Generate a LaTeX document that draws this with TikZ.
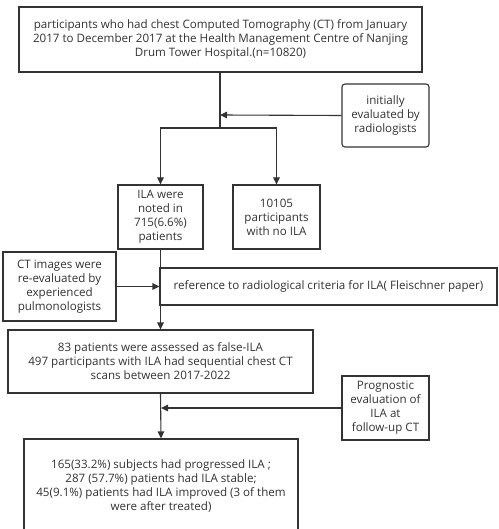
\documentclass[tikz,border=0pt]{standalone}
\usepackage{fontspec}
\setmainfont{Open Sans}
\usetikzlibrary{arrows.meta}
\definecolor{linec}{HTML}{333333}
\definecolor{textc}{HTML}{333333}
\begin{document}
\begin{tikzpicture}[x=1pt,y=-1pt,
  box/.style={draw=linec, line width=1.1pt, align=center, inner sep=1pt,
    font=\fontsize{11.6}{14}\selectfont, text=textc},
  conn/.style={draw=linec, line width=1.1pt},
  arr/.style={conn, -{Triangle[length=7pt,width=6.5pt]}}]
\useasboundingbox (0,0) rectangle (498,529);
\clip (0,0) rectangle (498,529);
\fill[white] (0,0) rectangle (498,529);

\node[box, minimum width=403pt, minimum height=65pt] (top) at (220.5,39.5)
  {participants who had chest Computed Tomography (CT) from January\\
   2017 to December 2017 at the Health Management Centre of Nanjing\\
   Drum Tower Hospital.(n=10820)};
\node[box, rounded corners=3pt, minimum width=87pt, minimum height=63pt] (init) at (385.5,115.5)
  {initially\\evaluated by\\radiologists};
\node[box, minimum width=85pt, minimum height=64pt] (ila) at (160.5,217)
  {ILA were\\noted in\\715(6.6\%)\\patients};
\node[box, minimum width=87pt, minimum height=64pt] (noila) at (276.5,217)
  {10105\\participants\\with no ILA};
\node[box, minimum width=113pt, minimum height=69pt] (ct) at (59.5,286.5)
  {CT images were\\re-evaluated by\\experienced\\pulmonologists};
\node[box, minimum width=337pt, minimum height=37pt] (ref) at (328.5,286.5)
  {reference to radiological criteria for ILA( Fleischner paper)};
\node[box, minimum width=305pt, minimum height=63pt] (false) at (160.5,361.5)
  {83 patients were assessed as false-ILA\\
   497 participants with ILA had sequential chest CT\\
   scans between 2017-2022};
\node[box, minimum width=87pt, minimum height=64pt] (prog) at (385.5,408)
  {Prognostic\\evaluation of\\ILA at\\follow-up CT};
\node[box, minimum width=274pt, minimum height=94pt] (res) at (161,486)
  {165(33.2\%) subjects had progressed ILA ;\\
   287 (57.7\%) patients had ILA stable;\\
   45(9.1\%) patients had ILA improved (3 of them\\
   were after treated)};

\coordinate (split) at (220,128);
\coordinate (mid1) at (220,115);
\coordinate (mid2) at (161,408);

\draw[conn] (top.south -| split) -- (split);
\draw[arr] (split) -| (ila.north);
\draw[arr] (split) -| (noila.north);
\draw[arr] (init.west) -- (mid1);
\draw[arr] (ila.south) -- (false.north);
\draw[arr] (ct.east) -- (ref.west);
\draw[arr] (false.south) -- (res.north);
\draw[arr] (prog.west) -- (mid2);
\end{tikzpicture}
\end{document}
